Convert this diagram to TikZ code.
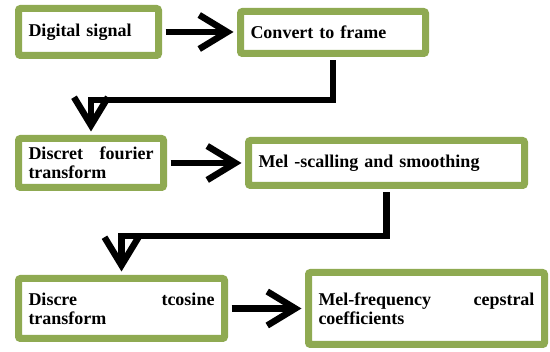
\documentclass[tikz,border=0pt]{standalone}
\usepackage{fontspec}
\setmainfont{Liberation Serif}
\usetikzlibrary{arrows.meta}
\usetikzlibrary{shadows}
\definecolor{boxgreen}{RGB}{143,170,82}

\begin{document}
\begin{tikzpicture}[x=1pt, y=-1pt,
box/.style={draw=boxgreen, line width=7pt, fill=white, rounded corners=2pt,
	inner xsep=10pt, inner ysep=0pt, align=left,
	font=\fontsize{18}{19}\selectfont\bfseries,
	drop shadow={shadow xshift=1.5pt, shadow yshift=-2pt, opacity=0.35}},
flow/.style={line width=6.5pt, -{Straight Barb[length=28pt,width=34pt]},
	shorten >=3.5pt, shorten <=3.5pt}]
\useasboundingbox (0,0) rectangle (550,352);
% first row
\node[box, text width=120pt, minimum height=47pt] (sig) at (88.5,32) {Digital signal};
\node[box, text width=165pt, minimum height=42pt] (frame) at (333,32.5) {Convert to frame};
% second row
\node[box, text width=125pt, minimum height=49pt] (dft) at (91,163) {Discret\hfill fourier\\transform};
\node[box, text width=256pt, minimum height=45pt] (mel) at (386.5,163) {Mel -scalling and smoothing};
% third row
\node[box, text width=186pt, minimum height=60pt] (dct) at (121.5,308.5) {Discre\hfill tcosine\\transform};
\node[box, text width=216pt, minimum height=72pt] (mfcc) at (426.5,308.5) {Mel-frequency\hfill cepstral\\coefficients};

\draw[flow] (sig.east) -- (sig.east -| frame.west);
\draw[flow] (frame.south) -- ++(0,43) -| (dft.north);
\draw[flow] (dft.east) -- (mel.west);
\draw[flow] (mel.south) -- ++(0,47) -| (dct.north);
\draw[flow] (dct.east) -- (mfcc.west);
\end{tikzpicture}
\end{document}
